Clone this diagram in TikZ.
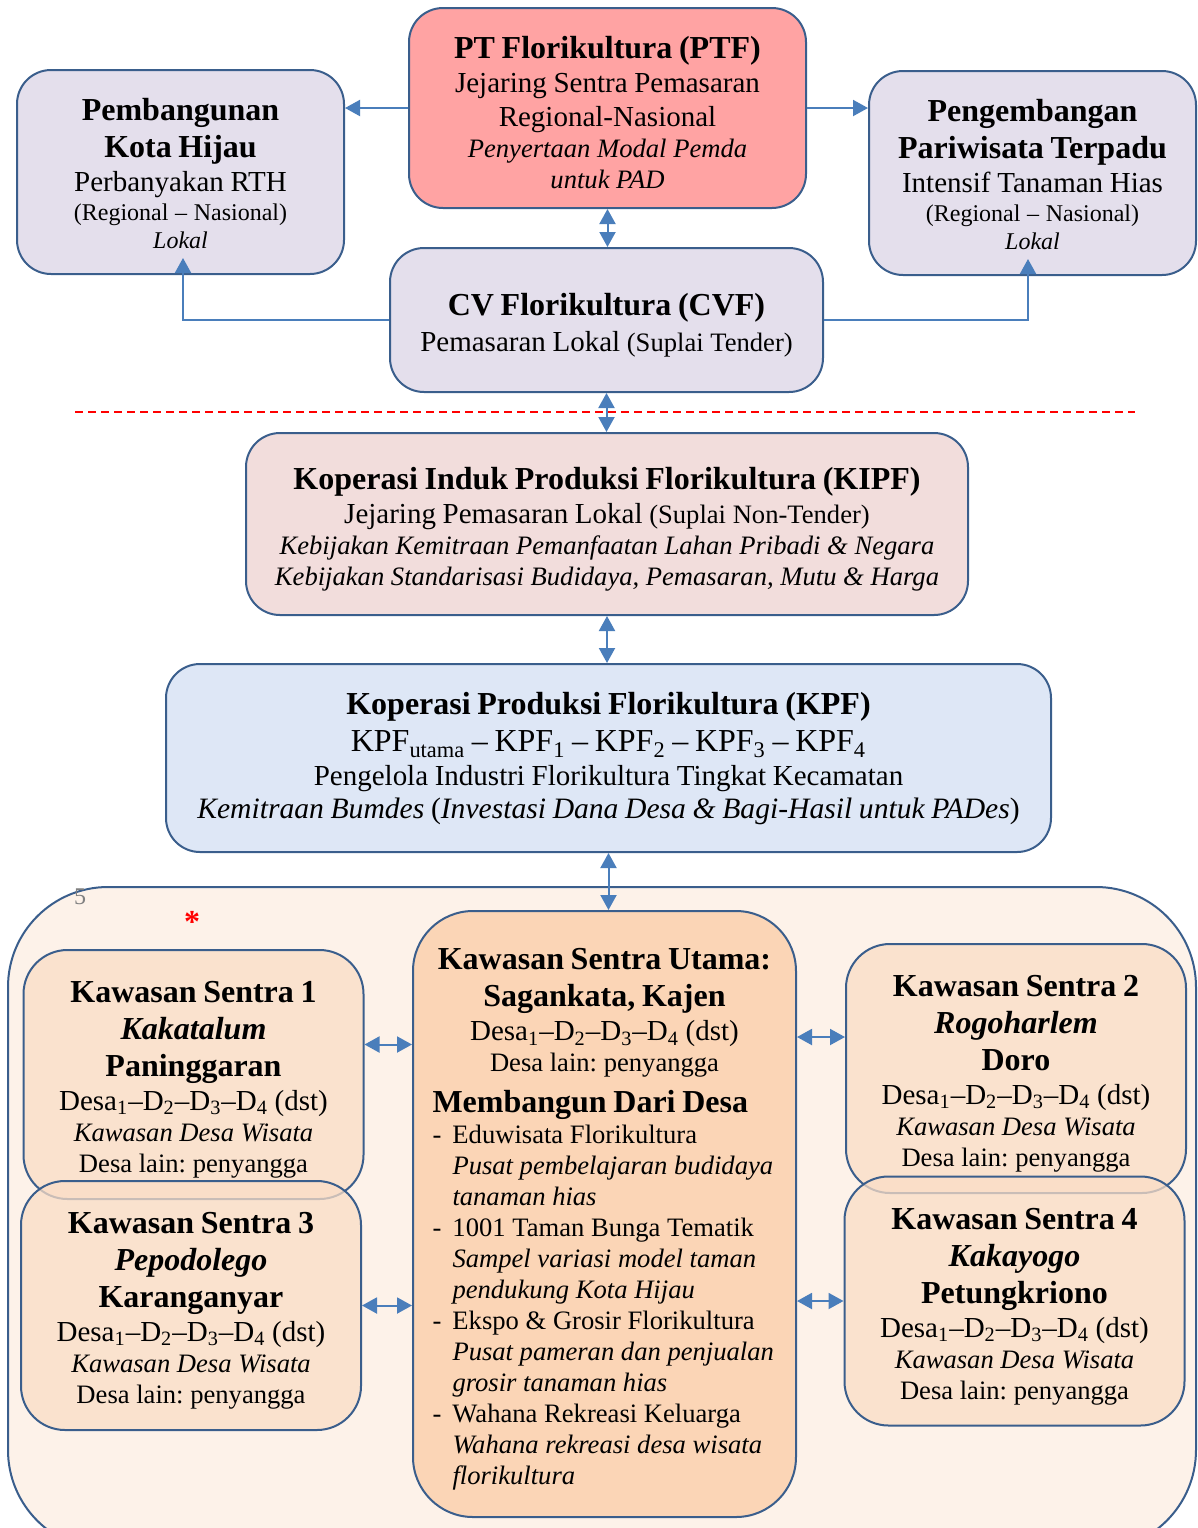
\documentclass[tikz,border=0pt]{standalone}
\usepackage{fontspec}
\setmainfont{Liberation Serif}
\usetikzlibrary{arrows.meta}
\frenchspacing
\definecolor{edgec}{RGB}{58,94,140}
\definecolor{linkc}{RGB}{74,126,187}
\definecolor{lilac}{RGB}{228,223,236}
\definecolor{rosac}{RGB}{255,163,163}
\definecolor{kipfc}{RGB}{242,221,220}
\definecolor{kpfc}{RGB}{222,231,246}
\definecolor{zonec}{RGB}{253,242,233}
\definecolor{sentc}{RGB}{250,221,198}
\definecolor{utamac}{RGB}{251,213,182}
\newcommand{\fT}{\normalfont\fontsize{16}{18.5}\selectfont\bfseries}
\newcommand{\fBI}{\normalfont\fontsize{16}{18.5}\selectfont\bfseries\itshape}
\newcommand{\fR}{\normalfont\fontsize{14.5}{17}\selectfont}
\newcommand{\fM}{\normalfont\fontsize{13.3}{15.5}\selectfont}
\newcommand{\fI}{\normalfont\fontsize{13.3}{15.5}\selectfont\itshape}
\newcommand{\fS}{\normalfont\fontsize{12}{14.5}\selectfont}
\newcommand{\fL}{\normalfont\fontsize{12}{14}\selectfont\itshape}
\newcommand{\droptext}[1][16pt]{\rule{0pt}{#1}}
\newcommand{\closetext}{\par}
\newcommand{\desaline}{Desa\textsubscript{1}–D\textsubscript{2}–D\textsubscript{3}–D\textsubscript{4} (dst)}
\begin{document}
\begin{tikzpicture}[x=0.5pt,y=-0.5pt,
  box/.style={draw=edgec,line width=1pt,rounded corners=17pt,inner sep=0pt,align=center},
  zonebox/.style={draw=edgec,line width=1pt,fill=zonec,rounded corners=50pt,inner sep=0pt},
  sentbox/.style={box,fill=sentc,fill opacity=0.75,text opacity=1,rounded corners=22pt,minimum width=170pt,minimum height=124.5pt,text width=165pt},
  link/.style={draw=linkc,line width=1pt,-{Triangle[length=7.5pt,width=8pt]}},
  both/.style={draw=linkc,line width=1pt,{Triangle[length=7.5pt,width=8pt]}-{Triangle[length=7.5pt,width=8pt]}}]
\useasboundingbox (0,0) rectangle (1198,1528);
\node[box,fill=lilac,minimum width=163.5pt,minimum height=102pt,text width=155pt] (hijau) at (180.5,172)
  {\fT\droptext[12.5pt]Pembangunan\\ \fT Kota Hijau\\ \fR Perbanyakan RTH\\ \fS (Regional – Nasional)\\ \fL Lokal\closetext};
\node[box,fill=rosac,minimum width=198.5pt,minimum height=100pt,text width=190pt] (ptf) at (607.5,108)
  {\fT\droptext PT Florikultura (PTF)\\ \fR Jejaring Sentra Pemasaran\\ \fR Regional-Nasional\\ \fI Penyertaan Modal Pemda\\ \fI untuk PAD\closetext};
\node[box,fill=lilac,minimum width=163.5pt,minimum height=102pt,text width=155pt] (wisata) at (1032.5,173)
  {\fT\droptext[12.5pt]Pengembangan\\ \fT Pariwisata Terpadu\\ \fR Intensif Tanaman Hias\\ \fS (Regional – Nasional)\\ \fL Lokal\closetext};
\node[box,fill=lilac,minimum width=216.5pt,minimum height=72pt,text width=210pt] (cvf) at (606.5,320)
  {\fT\droptext CV Florikultura (CVF)\\[1pt] \fR Pemasaran Lokal {\fM (Suplai Tender)}\closetext};
\draw[red,line width=0.75pt,dash pattern=on 4pt off 2.5pt] (75,412) -- (1135,412);
\node[box,fill=kipfc,minimum width=361pt,minimum height=91pt,text width=350pt] (kipf) at (607,524)
  {\fT\droptext Koperasi Induk Produksi Florikultura (KIPF)\\ \fR Jejaring Pemasaran Lokal {\fM (Suplai Non-Tender)}\\
   \fI Kebijakan Kemitraan Pemanfaatan Lahan Pribadi \& Negara\\ \fI Kebijakan Standarisasi Budidaya, Pemasaran, Mutu \& Harga\closetext};
\node[box,fill=kpfc,minimum width=442.5pt,minimum height=94pt,text width=432pt] (kpf) at (608.5,758)
  {\fT\droptext[12pt]Koperasi Produksi Florikultura (KPF)\\
   \normalfont\fontsize{16}{18.5}\selectfont KPF\textsubscript{utama} – KPF\textsubscript{1} – KPF\textsubscript{2} – KPF\textsubscript{3} – KPF\textsubscript{4}\\
   \fR Pengelola Industri Florikultura Tingkat Kecamatan\\
   \normalfont\fontsize{14.8}{16.5}\selectfont\itshape Kemitraan Bumdes \textup{(}Investasi Dana Desa \& Bagi-Hasil untuk PADes\textup{)}\closetext};
\node[zonebox,minimum width=594pt,minimum height=331.5pt] (kawasan) at (602,1218.5) {};
\node[text=gray,font=\fS] (nomor) at (80,897) {5};
\node[text=red,font=\fT] (bintang) at (192,922) {*};
\node[sentbox] (sentra1) at (193.5,1074.5)
  {\fT\droptext Kawasan Sentra 1\\ \fBI Kakatalum\\ \fT Paninggaran\\ \fR \desaline\\ \fI Kawasan Desa Wisata\\ \fM Desa lain: penyangga\closetext};
\node[sentbox] (sentra3) at (191,1305.5)
  {\fT\droptext Kawasan Sentra 3\\ \fBI Pepodolego\\ \fT Karanganyar\\ \fR \desaline\\ \fI Kawasan Desa Wisata\\ \fM Desa lain: penyangga\closetext};
\node[sentbox] (sentra2) at (1016,1068.5)
  {\fT\droptext Kawasan Sentra 2\\ \fBI Rogoharlem\\ \fT Doro\\ \fR \desaline\\ \fI Kawasan Desa Wisata\\ \fM Desa lain: penyangga\closetext};
\node[sentbox] (sentra4) at (1014.5,1301)
  {\fT\droptext Kawasan Sentra 4\\ \fBI Kakayogo\\ \fT Petungkriono\\ \fR \desaline\\ \fI Kawasan Desa Wisata\\ \fM Desa lain: penyangga\closetext};
\node[box,fill=utamac,rounded corners=30pt,minimum width=191.5pt,minimum height=303pt,text width=172pt,align=left] (utama) at (604.5,1214)
  {\fT\droptext\makebox[\linewidth]{Kawasan Sentra Utama:}\\
   \fT\makebox[\linewidth]{Sagankata, Kajen}\\
   \fR\makebox[\linewidth]{\desaline}\\
   \fM\makebox[\linewidth]{Desa lain: penyangga}\\[2pt]
   \fT Membangun Dari Desa\\
   \fM\makebox[10pt][l]{-}Eduwisata Florikultura\\
   \fI\hspace*{10pt}Pusat pembelajaran budidaya\\
   \fI\hspace*{10pt}tanaman hias\\
   \fM\makebox[10pt][l]{-}1001 Taman Bunga Tematik\\
   \fI\hspace*{10pt}Sampel variasi model taman\\
   \fI\hspace*{10pt}pendukung Kota Hijau\\
   \fM\makebox[10pt][l]{-}Ekspo \& Grosir Florikultura\\
   \fI\hspace*{10pt}Pusat pameran dan penjualan\\
   \fI\hspace*{10pt}grosir tanaman hias\\
   \fM\makebox[10pt][l]{-}Wahana Rekreasi Keluarga\\
   \fI\hspace*{10pt}Wahana rekreasi desa wisata\\
   \fI\hspace*{10pt}florikultura\closetext};
\draw[link] (ptf.west) -- (ptf.west -| hijau.east);
\draw[link] (ptf.east) -- (ptf.east -| wisata.west);
\draw[both] (ptf.south) -- (ptf.south |- cvf.north);
\draw[link] (cvf.west) -| ([xshift=1.25pt,yshift=8.5pt]hijau.south);
\draw[link] (cvf.east) -| ([xshift=-2.25pt,yshift=8.5pt]wisata.south);
\draw[both] (cvf.south) -- (cvf.south |- kipf.north);
\draw[both] (kipf.south) -- (kipf.south |- kpf.north);
\draw[both] (kpf.south) -- (kpf.south |- utama.north);
\draw[both] ([yshift=15pt]sentra1.east) -- ([yshift=15pt]sentra1.east -| utama.west);
\draw[both] (sentra3.east) -- (sentra3.east -| utama.west);
\draw[both] ([yshift=15.75pt]sentra2.west -| utama.east) -- ([yshift=15.75pt]sentra2.west);
\draw[both] (sentra4.west -| utama.east) -- (sentra4.west);
\end{tikzpicture}
\end{document}
